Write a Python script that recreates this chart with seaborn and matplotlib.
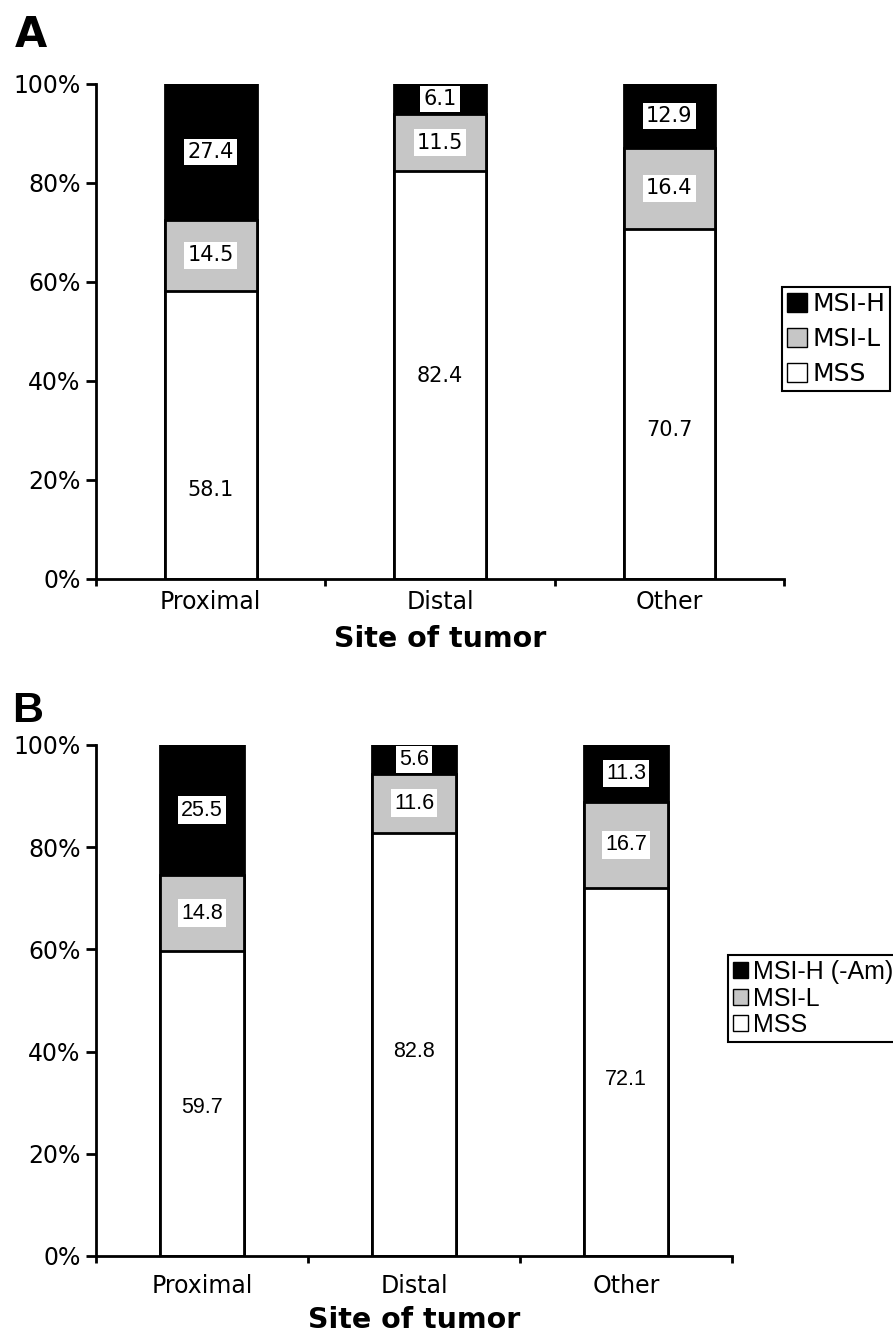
import matplotlib
matplotlib.use("Agg")
import matplotlib.pyplot as plt
import seaborn as sns
import pandas as pd
from matplotlib.patches import Patch
from matplotlib.ticker import FixedLocator, PercentFormatter

# data (% of tumours per site)
sites = ["Proximal", "Distal", "Other"]

mss_a = [58.1, 82.4, 70.7]
msil_a = [14.5, 11.5, 16.4]
msih_a = [27.4, 6.1, 12.9]
mss_label_y_a = [18, 41, 30]     # where the MSS numbers sit in panel A

mss_b = [59.7, 82.8, 72.1]
msil_b = [14.8, 11.6, 16.7]
msih_b = [25.5, 5.6, 11.3]
mss_label_y_b = [29, 40, 34.5]

legend_a = ["MSI-H", "MSI-L", "MSS"]
legend_b = ["MSI-H (-Am)", "MSI-L", "MSS"]

GREY = "#c6c6c6"
sns.set_theme(style="white")
plt.rcParams["font.family"] = ["DejaVu Sans"]
plt.rcParams.update({"text.color": "black", "axes.labelcolor": "black",
                     "xtick.color": "black", "ytick.color": "black"})


def draw_panel(ax, mss, msil, msih, mss_label_y, lab_font, lab_size, xpad, labelpad):
    df = pd.DataFrame({"site": sites, "MSS": mss, "MSI-L": msil, "MSI-H": msih})
    df["mid"] = df["MSS"] + df["MSI-L"]
    df["top"] = df["mid"] + df["MSI-H"]

    # stacked bars: draw cumulative totals back to front
    for col, c in [("top", "black"), ("mid", GREY), ("MSS", "white")]:
        sns.barplot(data=df, x="site", y=col, color=c, saturation=1,
                    edgecolor="black", linewidth=2, width=0.4, ax=ax)

    box = dict(boxstyle="square,pad=0.15", fc="white", ec="none")
    for i in range(len(sites)):
        ax.text(i, mss_label_y[i], f"{mss[i]}", ha="center", va="center",
                fontsize=lab_size, family=lab_font)
        ax.text(i, mss[i] + msil[i] / 2, f"{msil[i]}", ha="center", va="center",
                fontsize=lab_size, family=lab_font, bbox=box)
        top = min(df["top"][i], 100)
        ax.text(i, (top + df["mid"][i]) / 2, f"{msih[i]}", ha="center", va="center",
                fontsize=lab_size, family=lab_font, bbox=box)

    ax.set_ylim(0, 100)
    ax.set_xlim(-0.5, 2.5)
    ax.set_yticks(range(0, 101, 20))
    ax.yaxis.set_major_formatter(PercentFormatter(decimals=0))
    ax.xaxis.set_minor_locator(FixedLocator([-0.5, 0.5, 1.5, 2.5]))
    ax.tick_params(axis="y", left=True, direction="out", length=7, width=2,
                   labelsize=17, pad=4)
    ax.tick_params(axis="x", which="major", bottom=True, length=0, labelsize=17, pad=xpad)
    ax.tick_params(axis="x", which="minor", bottom=True, direction="out", length=5, width=2)
    ax.set_ylabel("")
    ax.set_xlabel("Site of tumor", fontsize=20.5, fontweight="bold", labelpad=labelpad)
    sns.despine(ax=ax)
    for s in ["left", "bottom"]:
        ax.spines[s].set_linewidth(2)
        ax.spines[s].set_color("black")


def add_legend(fig, labels, anchor, font, spacing, hsize):
    handles = [Patch(fc=c, ec="black", lw=1) for c in ["black", GREY, "white"]]
    leg = fig.legend(handles, labels, loc="upper left", bbox_to_anchor=anchor,
                     prop={"family": font, "size": 18}, frameon=True, fancybox=False,
                     edgecolor="black", framealpha=1, borderpad=0.2, borderaxespad=0,
                     handlelength=hsize, handleheight=hsize, handletextpad=0.2,
                     labelspacing=spacing)
    leg.get_frame().set_linewidth(1.5)


fig = plt.figure(figsize=(8.93, 13.43), dpi=100)
ax_a = fig.add_axes([0.1075, 0.5689, 0.7705, 0.3686])
ax_b = fig.add_axes([0.1075, 0.0648, 0.7122, 0.3805])

draw_panel(ax_a, mss_a, msil_a, msih_a, mss_label_y_a, "DejaVu Sans", 15, 8, 8)
draw_panel(ax_b, mss_b, msil_b, msih_b, mss_label_y_b, "Liberation Sans", 15.5, 13, 6)

add_legend(fig, legend_a, (0.8757, 0.7863), "DejaVu Sans", 0.45, 0.8)
add_legend(fig, legend_b, (0.815, 0.2889), "Liberation Sans", 0.1, 0.6)

fig.text(15 / 893, 1 - 47 / 1343, "A", fontsize=30, fontweight="bold", va="baseline")
fig.text(12 / 893, 1 - 722 / 1343, "B", fontsize=31, fontweight="bold",
         family="Liberation Sans", va="baseline")

fig.savefig("out.png", dpi=100)
